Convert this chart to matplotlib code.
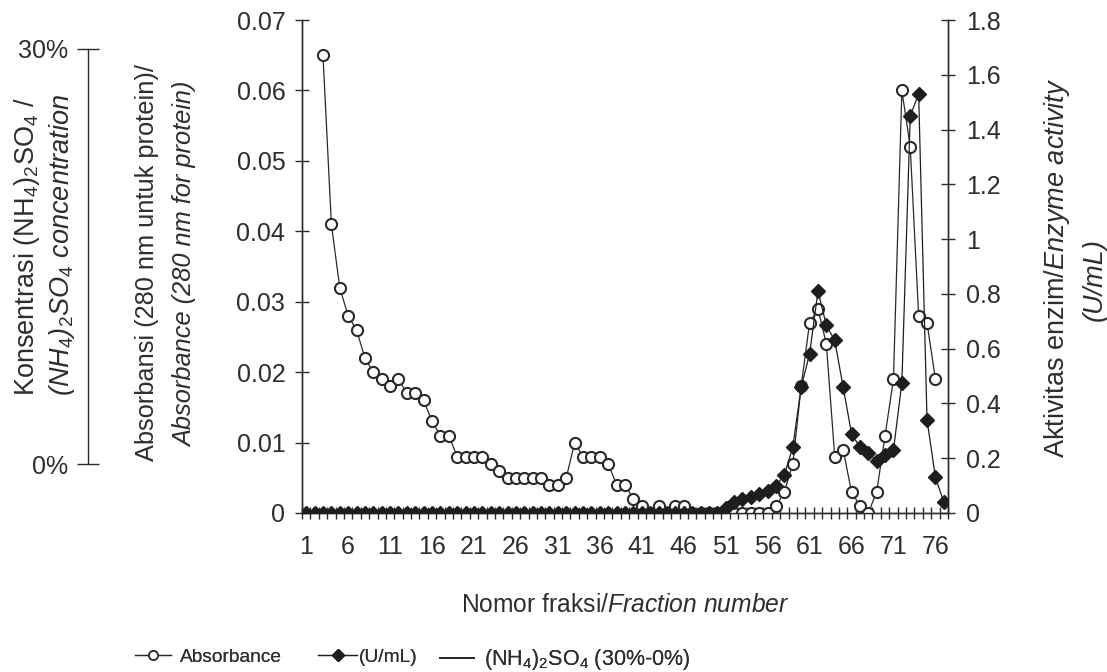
import numpy as np
import matplotlib
matplotlib.use("Agg")
import matplotlib.pyplot as plt
from matplotlib.lines import Line2D

plt.rcParams['font.family'] = ['Liberation Sans', 'DejaVu Sans']
plt.rcParams['mathtext.fontset'] = 'custom'
plt.rcParams['mathtext.rm'] = 'Liberation Sans'
plt.rcParams['mathtext.it'] = 'Liberation Sans:italic'
plt.rcParams['mathtext.bf'] = 'Liberation Sans:bold'

TXT = '#2e2e2e'

# ---------------- data ----------------
fractions = list(range(1, 78))
absorbance = [np.nan, np.nan, 0.065, 0.041, 0.032, 0.028, 0.026, 0.022, 0.020, 0.019,
              0.018, 0.019, 0.017, 0.017, 0.016, 0.013, 0.011, 0.011, 0.008, 0.008,
              0.008, 0.008, 0.007, 0.006, 0.005, 0.005, 0.005, 0.005, 0.005, 0.004,
              0.004, 0.005, 0.010, 0.008, 0.008, 0.008, 0.007, 0.004, 0.004, 0.002,
              0.001, 0.000, 0.001, 0.000, 0.001, 0.001, 0.000, 0.000, 0.000, 0.000,
              0.000, 0.000, 0.000, 0.000, 0.000, 0.000, 0.001, 0.003, 0.007, 0.018,
              0.027, 0.029, 0.024, 0.008, 0.009, 0.003, 0.001, 0.000, 0.003, 0.011,
              0.019, 0.060, 0.052, 0.028, 0.027, 0.019, np.nan]
enzyme = [0.0] * 50 + [0.02, 0.04, 0.05, 0.06, 0.07, 0.08, 0.10, 0.14, 0.24, 0.46,
                       0.58, 0.81, 0.685, 0.63, 0.46, 0.29, 0.24, 0.22, 0.19, 0.21,
                       0.23, 0.475, 1.45, 1.53, 0.34, 0.13, 0.04]
xtick_labels = [str(v) for v in range(1, 77, 5)]
abs_ticks = [0, 0.01, 0.02, 0.03, 0.04, 0.05, 0.06, 0.07]
abs_ticklabels = ['0', '0.01', '0.02', '0.03', '0.04', '0.05', '0.06', '0.07']
enz_ticks = [0, 0.2, 0.4, 0.6, 0.8, 1.0, 1.2, 1.4, 1.6, 1.8]
enz_ticklabels = ['0', '0.2', '0.4', '0.6', '0.8', '1', '1.2', '1.4', '1.6', '1.8']
salt_ticks = [0, 30]
salt_ticklabels = ['0%', '30%']
legend_labels = ['Absorbance', '(U/mL)', r'(NH$_4$)$_2$SO$_4$ (30%-0%)']

W, H = 1107, 672
fig = plt.figure(figsize=(W / 100, H / 100), dpi=100)
fig.patch.set_facecolor('white')

def fx(px):
    return px / W

def fy(py):
    return 1 - py / H

L, R, T, B = 302, 948, 20, 513
ax = fig.add_axes([fx(L), fy(B), fx(R) - fx(L), fy(T) - fy(B)])
ax2 = ax.twinx()

lw = 0.9
ax.plot(fractions, absorbance, color='#2a2a2a', lw=lw, marker='o', ms=8,
        mfc='white', mec='#2a2a2a', mew=1.5, zorder=3)
ax2.plot(fractions, enzyme, color='#1e1e1e', lw=lw, marker='D', ms=7.2,
         mfc='#1e1e1e', mec='#1e1e1e', zorder=3)

ax.set_xlim(0.5, 77.5)
ax.set_ylim(0, 0.07)
ax2.set_ylim(0, 1.8)

for a in (ax, ax2):
    a.spines['top'].set_visible(False)
    for s in a.spines.values():
        s.set_color('#2a2a2a')
        s.set_linewidth(1.0)

tfs = 18
ax.set_xticks(list(range(1, 77, 5)))
ax.set_xticklabels(xtick_labels)
ax.set_xticks(np.arange(0.5, 78, 1.0), minor=True)
ax.tick_params(axis='x', which='major', length=0, pad=16, labelsize=tfs, labelcolor=TXT)
ax.tick_params(axis='x', which='minor', direction='inout', length=9, width=1.0, color='#2a2a2a')

ax.set_yticks(abs_ticks)
ax.set_yticklabels(abs_ticklabels)
ax.tick_params(axis='y', direction='inout', length=10, width=1.0, pad=7,
               labelsize=tfs, labelcolor=TXT, color='#2a2a2a')
ax2.set_yticks(enz_ticks)
ax2.set_yticklabels(enz_ticklabels)
ax2.tick_params(axis='y', direction='inout', length=10, width=1.0, pad=8,
                labelsize=tfs, labelcolor=TXT, color='#2a2a2a')

# far-left salt concentration axis
y30, y0 = 49, 464
ax3 = fig.add_axes([fx(88), fy(y0), 0.0001, fy(y30) - fy(y0)])
ax3.set_ylim(0, 30)
ax3.patch.set_visible(False)
for k in ('top', 'right', 'bottom'):
    ax3.spines[k].set_visible(False)
ax3.spines['left'].set_color('#2a2a2a')
ax3.spines['left'].set_linewidth(1.0)
ax3.set_xticks([])
ax3.set_yticks(salt_ticks)
ax3.set_yticklabels(salt_ticklabels)
ax3.tick_params(axis='y', direction='inout', length=16, width=1.0, pad=6,
                labelsize=tfs, labelcolor=TXT, color='#2a2a2a')

# axis titles
fig.text(fx(147), fy(263), 'Absorbansi (280 nm untuk protein)/', rotation=90,
         ha='center', va='center', fontsize=18.3, color=TXT)
fig.text(fx(185), fy(264), 'Absorbance (280 nm for protein)', rotation=90,
         ha='center', va='center', fontsize=18.3, color=TXT, style='italic')
fig.text(fx(27), fy(396), r'Konsentrasi (NH$_4$)$_2$SO$_4$ /', rotation=90,
         ha='left', va='center', rotation_mode='anchor', fontsize=19.5, color=TXT)
fig.text(fx(62), fy(396), r'(NH$_4$)$_2$SO$_4$ concentration', rotation=90,
         ha='left', va='center', rotation_mode='anchor', fontsize=19.5, color=TXT,
         style='italic')
fig.text(fx(1057), fy(268), r'Aktivitas enzim/$\it{Enzyme\ activity}$', rotation=90,
         ha='center', va='center', fontsize=19.5, color=TXT)
fig.text(fx(1095), fy(280), '(U/mL)', rotation=90,
         ha='center', va='center', fontsize=19.5, color=TXT, style='italic')
fig.text(fx(625), fy(605), r'Nomor fraksi/$\it{Fraction\ number}$',
         ha='center', va='center', fontsize=17.7, color=TXT)

# legend (three separate entries, placed like the reference)
h1 = Line2D([], [], color='#2a2a2a', lw=lw, marker='o', ms=6.5, mfc='white',
            mec='#2a2a2a', mew=1.2)
h2 = Line2D([], [], color='#1e1e1e', lw=lw, marker='D', ms=6, mfc='#1e1e1e', mec='#1e1e1e')
h3 = Line2D([], [], color='#2a2a2a', lw=1.3)
specs = [(h1, legend_labels[0], 135, 657, 13.8, 1.87, 0.5),
         (h2, legend_labels[1], 318, 657, 13.8, 2.05, 0.1),
         (h3, legend_labels[2], 440, 660, 15.5, 1.6, 0.45)]
for h, lab, x0, y0_, fsz, hl, htp in specs:
    leg = fig.legend([h], [lab], loc='center left', bbox_to_anchor=(fx(x0), fy(y0_)),
                     frameon=False, fontsize=fsz, handlelength=hl, handletextpad=htp,
                     borderpad=0, borderaxespad=0, labelcolor=TXT)
    fig.add_artist(leg)

fig.savefig('out.png', dpi=100, facecolor='white')
